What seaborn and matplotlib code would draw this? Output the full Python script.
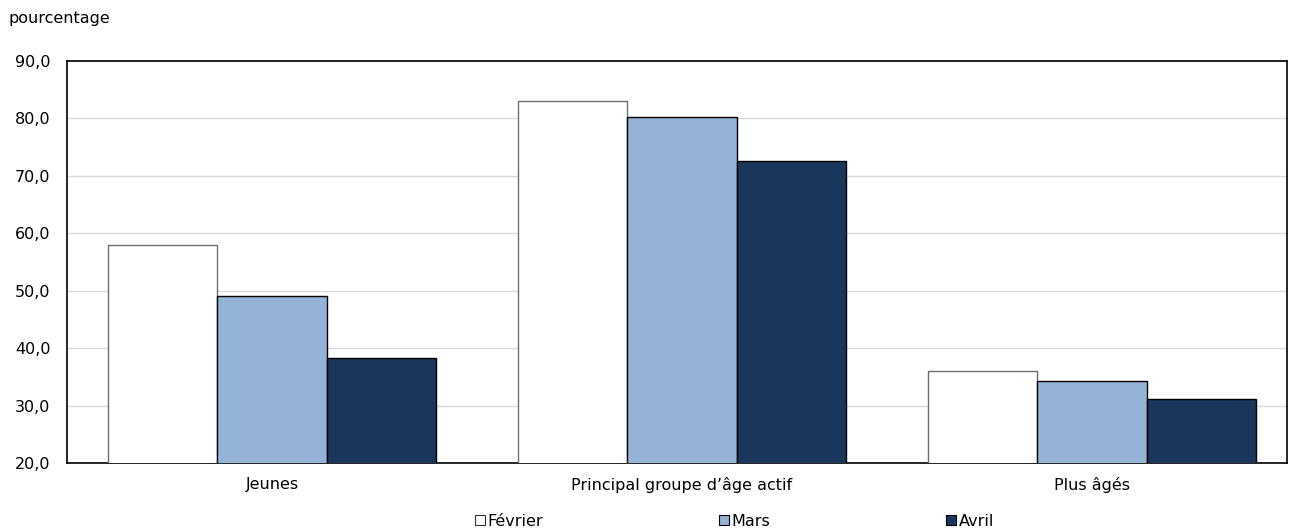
import matplotlib
matplotlib.use("Agg")
import matplotlib.pyplot as plt
import seaborn as sns
import pandas as pd
from matplotlib.patches import Patch
from matplotlib.ticker import FuncFormatter

categories = ["Jeunes", "Principal groupe d\u2019âge actif", "Plus âgés"]
months = ["Février", "Mars", "Avril"]
fevrier = [58.0, 83.0, 36.1]
mars = [49.1, 80.2, 34.3]
avril = [38.3, 72.6, 31.1]

colors = {"Février": "#FFFFFF", "Mars": "#95B3D7", "Avril": "#1A365D"}
edges = {"Février": "#6E6E6E", "Mars": "#000000", "Avril": "#000000"}

df = pd.DataFrame({
    "groupe": categories * 3,
    "mois": [m for m in months for _ in categories],
    "valeur": fevrier + mars + avril,
})

sns.set_theme(style="white")
plt.rcParams["font.family"] = ["DejaVu Sans"]
plt.rcParams["text.color"] = "#000000"

fig = plt.figure(figsize=(12.98, 5.31), dpi=100)
ax = fig.add_axes([67 / 1298, 1 - 463 / 531, 1220 / 1298, 402 / 531])

sns.barplot(data=df, x="groupe", y="valeur", hue="mois", order=categories,
            hue_order=months, palette=colors, width=0.8, saturation=1,
            legend=False, ax=ax, zorder=3)

for container, m in zip(ax.containers, months):
    for bar in container:
        bar.set_edgecolor(edges[m])
        bar.set_linewidth(1.0)

ax.set_xlim(-0.5, 2.476)
ax.set_ylim(20, 90)
ax.set_yticks(range(20, 91, 10))
ax.yaxis.set_major_formatter(FuncFormatter(lambda v, p: f"{v:.1f}".replace(".", ",")))
ax.yaxis.grid(True, color="#D9D9D9", linewidth=1, zorder=0)
ax.set_axisbelow(True)
ax.set_xlabel("")
ax.set_ylabel("")
for s in ax.spines.values():
    s.set_color("#000000")
    s.set_linewidth(1.2)
ax.tick_params(axis="both", length=0, labelsize=11.5, colors="#000000")
ax.tick_params(axis="y", pad=12)
ax.tick_params(axis="x", pad=10)

fig.text(9 / 1298, 1 - 19 / 531, "pourcentage", fontsize=11.5, va="center", ha="left",
         color="#000000")

handles = [Patch(facecolor=colors[m], edgecolor="#000000" if m != "Février" else "#333333",
                 linewidth=0.8, label=m) for m in months]
fig.legend(handles=handles, loc="center", bbox_to_anchor=(0.566, 1 - 521 / 531),
           ncol=3, frameon=False, fontsize=11.5, handlelength=0.6, handleheight=0.6,
           handletextpad=0.2, columnspacing=11.0, borderaxespad=0)

fig.savefig("out.png", dpi=100)
